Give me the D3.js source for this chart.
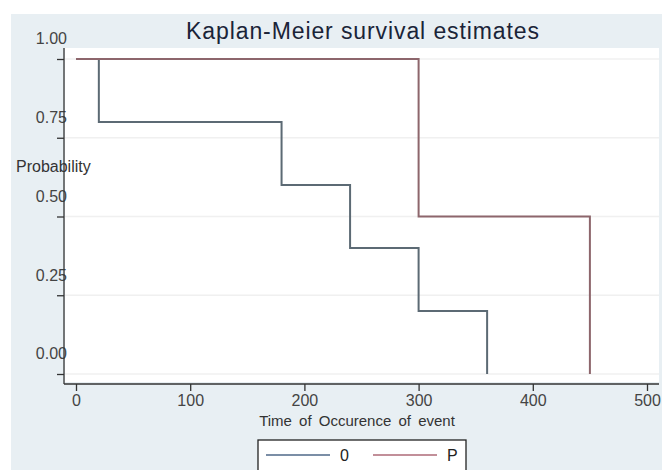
<!DOCTYPE html>
<html>
<head>
<meta charset="utf-8">
<script src="https://cdn.jsdelivr.net/npm/d3@7"></script>
<style>
  body { margin: 0; background: #fff; }
  svg { display: block; font-family: "Liberation Sans", Arial, sans-serif; }
</style>
</head>
<body>
<svg id="chart" width="662" height="470"></svg>
<script>
// survival data
var times0 = [0, 20, 180, 240, 300, 360];
var surv0 = [1, 0.8, 0.6, 0.4, 0.2, 0];
var timesP = [0, 300, 450];
var survP = [1, 0.5, 0];
var groups = ['0', 'P'];
var colors = ['#5c6a74', '#8d666c'];
var legendColors = ['#7b8ea6', '#c28f99'];
var xTicks = [0, 100, 200, 300, 400, 500];
var yTicks = [0, 0.25, 0.5, 0.75, 1];

var svg = d3.select('#chart');

// light blue graph region
svg.append('rect')
  .attr('x', 11).attr('y', 14)
  .attr('width', 651).attr('height', 456)
  .attr('fill', '#e8eff3');

// white plot region
svg.append('rect')
  .attr('x', 65).attr('y', 48)
  .attr('width', 594).attr('height', 334)
  .attr('fill', '#fff');

var x = d3.scaleLinear().domain([0, 500]).range([76, 647]);
var y = d3.scaleLinear().domain([0, 1]).range([374, 59]);

// grid lines
svg.append('g').selectAll('line')
  .data(yTicks).enter()
  .append('line')
  .attr('x1', 65).attr('x2', 659)
  .attr('y1', function (d) { return y(d); })
  .attr('y2', function (d) { return y(d); })
  .attr('stroke', '#f0f0f0')
  .attr('stroke-width', 1.5);

// y axis
var yAxis = svg.append('g')
  .attr('transform', 'translate(64,0)')
  .call(d3.axisLeft(y).tickValues(yTicks).tickSize(7).tickFormat(d3.format('.2f')));
yAxis.select('.domain').remove();
yAxis.selectAll('.tick line').attr('stroke', '#333').attr('stroke-width', 1.3);
yAxis.selectAll('.tick text')
  .attr('x', 3).attr('dy', '-0.95em')
  .attr('fill', '#444')
  .style('font-size', '16px');

// x axis
var xAxis = svg.append('g')
  .attr('transform', 'translate(0,384)')
  .call(d3.axisBottom(x).tickValues(xTicks).tickSize(7).tickPadding(4));
xAxis.select('.domain').remove();
xAxis.selectAll('.tick line').attr('stroke', '#333').attr('stroke-width', 1.3);
xAxis.selectAll('.tick text')
  .attr('fill', '#444')
  .style('font-size', '16px');

// axis lines
svg.append('line')
  .attr('x1', 64).attr('x2', 64).attr('y1', 48).attr('y2', 384)
  .attr('stroke', '#333').attr('stroke-width', 1.3);
svg.append('line')
  .attr('x1', 64).attr('x2', 659).attr('y1', 384).attr('y2', 384)
  .attr('stroke', '#333').attr('stroke-width', 1.3);

// survival curves
var line = d3.line()
  .x(function (d) { return x(d[0]); })
  .y(function (d) { return y(d[1]); })
  .curve(d3.curveStepAfter);

var series = [d3.zip(times0, surv0), d3.zip(timesP, survP)];
svg.append('g').selectAll('path')
  .data(series).enter()
  .append('path')
  .attr('d', line)
  .attr('fill', 'none')
  .attr('stroke', function (d, i) { return colors[i]; })
  .attr('stroke-width', 2);

// titles
svg.append('text')
  .attr('x', 363).attr('y', 39)
  .attr('text-anchor', 'middle')
  .attr('fill', '#1a2438')
  .style('font-size', '23px')
  .style('letter-spacing', '0.9px')
  .text('Kaplan-Meier survival estimates');

svg.append('text')
  .attr('x', 16).attr('y', 172)
  .attr('fill', '#333')
  .style('font-size', '16px')
  .text('Probability');

svg.append('text')
  .attr('x', 357).attr('y', 426)
  .attr('text-anchor', 'middle')
  .attr('fill', '#333')
  .style('font-size', '15px')
  .style('word-spacing', '3px')
  .text('Time of Occurence of event');

// legend
var legend = svg.append('g');
legend.append('rect')
  .attr('x', 258).attr('y', 440)
  .attr('width', 208).attr('height', 40)
  .attr('fill', '#fff')
  .attr('stroke', '#222')
  .attr('stroke-width', 1.3);

var item = legend.selectAll('g.item')
  .data(groups).enter()
  .append('g')
  .attr('class', 'item')
  .attr('transform', function (d, i) { return 'translate(' + (266 + i * 107) + ',455)'; });
item.append('line')
  .attr('x1', 0).attr('x2', 64)
  .attr('stroke', function (d, i) { return legendColors[i]; })
  .attr('stroke-width', 2);
item.append('text')
  .attr('x', 74).attr('y', 6)
  .attr('fill', '#222')
  .style('font-size', '16px')
  .text(function (d) { return d; });
</script>
</body>
</html>
